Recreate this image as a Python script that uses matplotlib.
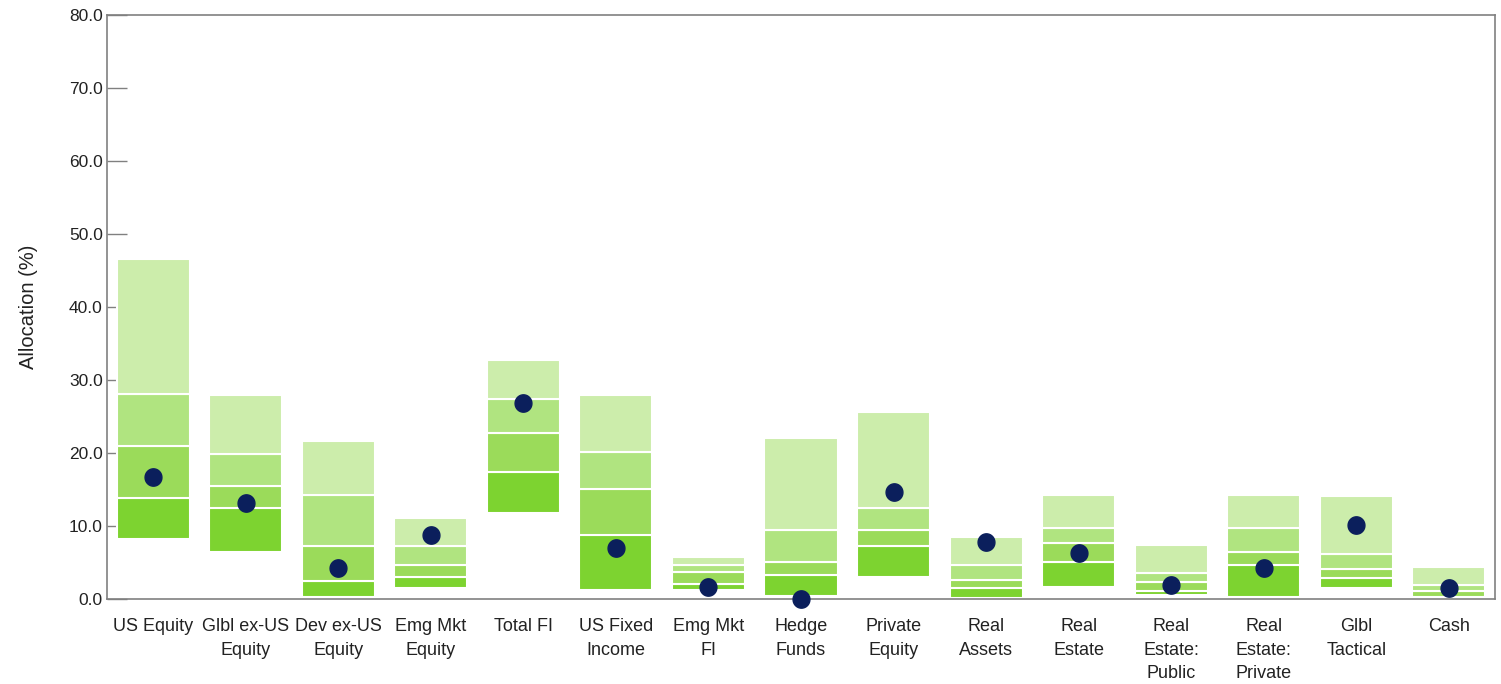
import matplotlib
matplotlib.use("Agg")
import matplotlib.pyplot as plt
from matplotlib.path import Path
import numpy as np

plt.rcParams['font.family'] = ['Liberation Sans', 'DejaVu Sans']

categories = ["US Equity", "Glbl ex-US\nEquity", "Dev ex-US\nEquity", "Emg Mkt\nEquity",
              "Total FI", "US Fixed\nIncome", "Emg Mkt\nFI", "Hedge\nFunds", "Private\nEquity",
              "Real\nAssets", "Real\nEstate", "Real\nEstate:\nPublic", "Real\nEstate:\nPrivate",
              "Glbl\nTactical", "Cash"]

p5  = [8.2, 6.5, 0.3, 1.5, 11.8, 1.2, 1.2, 0.4, 3.0, 0.2, 1.7, 0.6, 0.3, 1.5, 0.0]
p25 = [13.9, 12.4, 2.5, 3.0, 17.4, 8.7, 2.05, 3.3, 7.2, 1.5, 5.1, 1.1, 4.6, 2.9, 0.3]
p50 = [21.0, 15.5, 7.2, 4.7, 22.8, 15.0, 3.7, 5.0, 9.45, 2.6, 7.7, 2.3, 6.4, 4.1, 1.1]
p75 = [28.1, 19.9, 14.2, 7.2, 27.4, 20.2, 4.66, 9.45, 12.4, 4.66, 9.7, 3.5, 9.7, 6.2, 1.9]
p95 = [46.6, 28.0, 21.6, 11.1, 32.7, 27.9, 5.75, 22.0, 25.6, 8.5, 14.2, 7.35, 14.2, 14.1, 4.4]
actual = [16.7, 13.2, 4.3, 8.8, 26.8, 7.0, 1.6, 0.0, 14.7, 7.85, 6.25, 1.9, 4.3, 10.1, 1.5]

yticks = [0, 10, 20, 30, 40, 50, 60, 70, 80]

colors = ["#7DD330", "#9BDB5A", "#B0E480", "#CCEDAB"]
dot_color = "#0B1F5C"
grey = "#808080"
text_color = "#222222"

fig = plt.figure(figsize=(15.01, 6.84), dpi=100)
ax = fig.add_axes([0.0713, 0.1243, 0.9247, 0.8537])

x = np.arange(len(categories))
bounds = [p5, p25, p50, p75, p95]
for i in range(4):
    lo = np.array(bounds[i])
    hi = np.array(bounds[i + 1])
    ax.bar(x, hi - lo, bottom=lo, width=0.79, color=colors[i],
           edgecolor="white", linewidth=1.5, zorder=2)

t = np.linspace(0, 2 * np.pi, 61)
ell = Path(np.column_stack([np.cos(t) * 0.97, np.sin(t)]), closed=True)
ax.plot(x, actual, linestyle="none", marker=ell, color=dot_color,
        markersize=12.5, zorder=5, clip_on=False)

ax.set_xlim(-0.5, len(categories) - 0.5)
ax.set_ylim(0, 80)
ax.set_yticks(yticks)
ax.set_yticklabels([f"{v:.1f}" for v in yticks], fontsize=12.5, color=text_color)
ax.set_xticks(x)
ax.set_xticklabels(categories, fontsize=13, color=text_color, linespacing=1.5)
ax.tick_params(axis="y", direction="in", length=14.4, width=1, color=grey, pad=3)
ax.tick_params(axis="x", length=0, pad=14)
for s in ax.spines.values():
    s.set_color(grey)
    s.set_linewidth(1.2)
ax.set_ylabel("Allocation (%)", fontsize=14.5, color=text_color, labelpad=22)

fig.savefig("out.png", dpi=100)
